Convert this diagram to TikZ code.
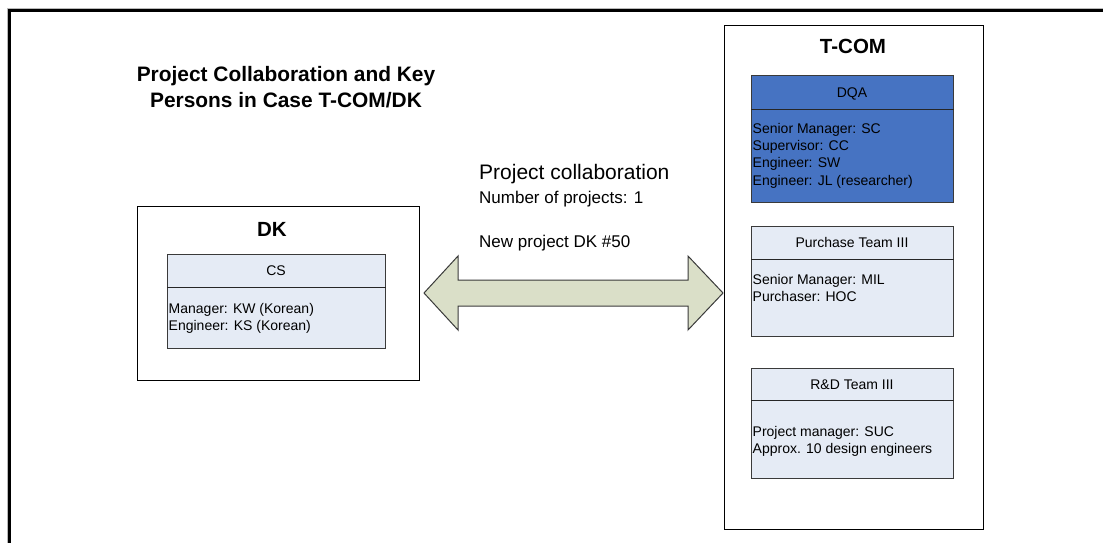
\documentclass[tikz,border=0pt]{standalone}
\usepackage{fontspec}
\setmainfont{Liberation Sans}
\definecolor{lightbox}{HTML}{E5EBF5}
\definecolor{dqablue}{HTML}{4673C2}
\definecolor{arrowfill}{HTML}{DADFC8}
\definecolor{edge}{HTML}{3A3A3A}
\begin{document}
\begin{tikzpicture}[x=1pt,y=-1pt,
  outerbox/.style={draw=black, line width=1pt, fill=white, inner sep=0pt, anchor=north west},
  innerbox/.style={draw=edge, line width=1pt, fill=lightbox, inner sep=0pt, anchor=north west},
  sepline/.style={draw=black!85, line width=1pt},
  txt/.style={font=\fontsize{14}{16}\selectfont, anchor=base west, inner sep=0pt},
  hdr/.style={font=\fontsize{14}{16}\selectfont, anchor=base, inner sep=0pt},
  bigtitle/.style={font=\bfseries\fontsize{20.5}{24}\selectfont, anchor=base, inner sep=0pt}]
\useasboundingbox (0,0) rectangle (1103,542);
\clip (0,0) rectangle (1103,542);
% outer frame
\draw[gray!55, line width=1.2pt] (7.2,560) -- (7.2,8.2) -- (1120,8.2);
\draw[black, line width=3pt] (9.7,560) -- (9.7,10.7) -- (1120,10.7);

% title
\node[bigtitle, font=\bfseries\fontsize{20.9}{24}\selectfont] (title1) at (286,81) {Project Collaboration and Key};
\node[bigtitle, font=\bfseries\fontsize{20.9}{24}\selectfont] (title2) at (286,107) {Persons in Case T-COM/DK};

% DK
\node[outerbox, minimum width=282pt, minimum height=174pt] (dk) at (137,206) {};
\node[bigtitle] (dkt) at (272,236) {DK};
\node[innerbox, minimum width=218pt, minimum height=94pt] (cs) at (167,254) {};
\draw[sepline] ([yshift=-33pt]cs.north west) -- ([yshift=-33pt]cs.north east);
\node[hdr] (csh) at (276,275) {CS};
\node[txt] (cs1) at (168.5,313) {Manager: KW (Korean)};
\node[txt] (cs2) at (168.5,330) {Engineer: KS (Korean)};

% T-COM
\node[outerbox, minimum width=259pt, minimum height=504pt] (tcom) at (724,25) {};
\node[bigtitle] (tcomt) at (853,53) {T-COM};

\node[innerbox, fill=dqablue, minimum width=202pt, minimum height=127pt] (dqa) at (751,75) {};
\draw[sepline] ([yshift=-34pt]dqa.north west) -- ([yshift=-34pt]dqa.north east);
\node[hdr] (dqah) at (852,97) {DQA};
\node[txt] (d1) at (752.5,133) {Senior Manager: SC};
\node[txt] (d2) at (752.5,150) {Supervisor: CC};
\node[txt] (d3) at (752.5,167) {Engineer: SW};
\node[txt] (d4) at (752.5,185) {Engineer: JL (researcher)};

\node[innerbox, minimum width=202pt, minimum height=110pt] (pur) at (751,226) {};
\draw[sepline] ([yshift=-33pt]pur.north west) -- ([yshift=-33pt]pur.north east);
\node[hdr] (purh) at (852,247) {Purchase Team III};
\node[txt] (p1) at (752.5,284) {Senior Manager: MIL};
\node[txt] (p2) at (752.5,301) {Purchaser: HOC};

\node[innerbox, minimum width=202pt, minimum height=110pt] (rd) at (751,368) {};
\draw[sepline] ([yshift=-32pt]rd.north west) -- ([yshift=-32pt]rd.north east);
\node[hdr] (rdh) at (852,389) {R\&D Team III};
\node[txt] (r1) at (752.5,436) {Project manager: SUC};
\node[txt] (r2) at (752.5,453) {Approx. 10 design engineers};

% double block arrow between DK and T-COM
\coordinate (la) at (424,293);
\coordinate (ra) at (723,293);
\draw[draw=edge, line width=1pt, fill=arrowfill, line join=miter]
  (la) -- ++(34,-37) -- ++(0,24) -- ([shift={(-35,-13)}]ra) -- ++(0,-24) -- (ra)
  -- ++(-35,37) -- ++(0,-24) -- ([shift={(34,13)}]la) -- ++(0,24) -- cycle;

% collaboration text
\node[txt, font=\fontsize{21}{24}\selectfont] (pc) at (479,179) {Project collaboration};
\node[txt, font=\fontsize{17}{19}\selectfont] (np) at (479,203) {Number of projects: 1};
\node[txt, font=\fontsize{17}{19}\selectfont] (nw) at (479,247) {New project DK \#50};
\end{tikzpicture}
\end{document}
